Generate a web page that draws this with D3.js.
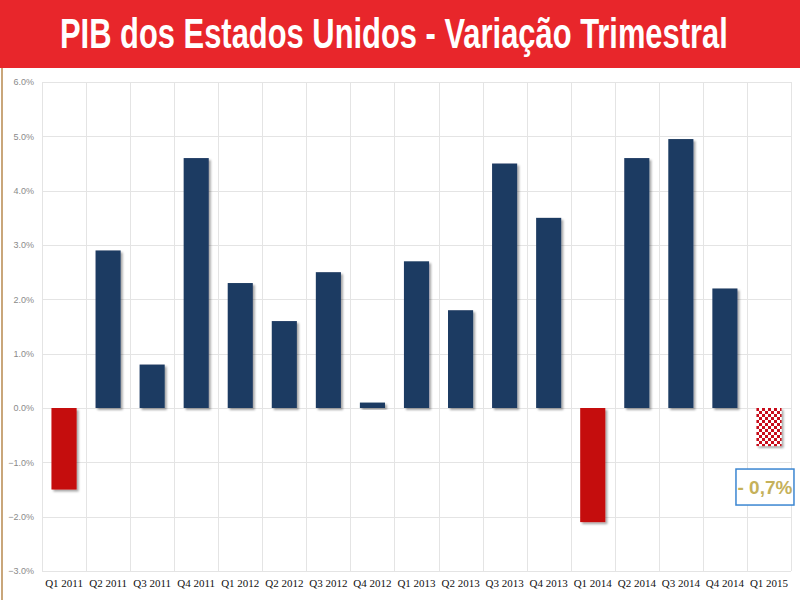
<!DOCTYPE html>
<html lang="pt">
<head>
<meta charset="UTF-8">
<title>PIB dos Estados Unidos - Variação Trimestral</title>
<script src="https://d3js.org/d3.v7.min.js"></script>
<style>
  html, body { margin: 0; padding: 0; background: #fff; }
  svg { display: block; }
</style>
</head>
<body>
<div id="chart"></div>
<script>
// quarters and annualised GDP change (%)
const quarters = ["Q1 2011", "Q2 2011", "Q3 2011", "Q4 2011",
                  "Q1 2012", "Q2 2012", "Q3 2012", "Q4 2012",
                  "Q1 2013", "Q2 2013", "Q3 2013", "Q4 2013",
                  "Q1 2014", "Q2 2014", "Q3 2014", "Q4 2014",
                  "Q1 2015"];
const growth = [-1.5, 2.9, 0.8, 4.6,
                2.3, 1.6, 2.5, 0.1,
                2.7, 1.8, 4.5, 3.5,
                -2.1, 4.6, 4.95, 2.2,
                -0.7];
const estimated = ["Q1 2015"];      // drawn checkered
const yTicks = [-3, -2, -1, 0, 1, 2, 3, 4, 5, 6];
const title = "PIB dos Estados Unidos - Variação Trimestral";
const calloutText = "- 0,7%";

const width = 800, height = 600;
const margin = {top: 82, right: 9, bottom: 29, left: 42};

const data = quarters.map((q, i) => ({q: q, v: growth[i], est: estimated.includes(q)}));

const svg = d3.select("#chart").append("svg")
    .attr("width", width)
    .attr("height", height);

const defs = svg.append("defs");

// checkered fill for the estimate
const pat = defs.append("pattern")
    .attr("id", "checks")
    .attr("patternUnits", "userSpaceOnUse")
    .attr("width", 6).attr("height", 6);
pat.append("rect").attr("width", 6).attr("height", 6).attr("fill", "#fff");
pat.append("rect").attr("width", 3).attr("height", 3).attr("fill", "#c8101a");
pat.append("rect").attr("x", 3).attr("y", 3).attr("width", 3).attr("height", 3).attr("fill", "#c8101a");

const shadow = defs.append("filter").attr("id", "shadow")
    .attr("x", "-20%").attr("y", "-20%").attr("width", "150%").attr("height", "150%");
shadow.append("feDropShadow")
    .attr("dx", 2).attr("dy", 2).attr("stdDeviation", 1.2)
    .attr("flood-color", "#000").attr("flood-opacity", 0.35);

// red banner
svg.append("rect")
    .attr("x", 0).attr("y", 0)
    .attr("width", width).attr("height", 68)
    .attr("fill", "#e8262b");

// title: squeeze horizontally to the banner's text width
const titleText = svg.append("text")
    .attr("x", 0).attr("y", 0)
    .style("font", "bold 42px 'Liberation Sans Narrow', 'Arial Narrow', 'Liberation Sans', sans-serif")
    .attr("fill", "#fff")
    .text(title);
const natural = titleText.node().getComputedTextLength();
titleText.attr("transform", `translate(60,48) scale(${668 / natural},1)`);

// thin frame line on the left
svg.append("line")
    .attr("x1", 2).attr("x2", 2)
    .attr("y1", 68).attr("y2", height)
    .attr("stroke", "#c9a67a").attr("stroke-width", 2);

const x = d3.scaleBand()
    .domain(quarters)
    .range([margin.left, width - margin.right])
    .paddingInner(0.43)
    .paddingOuter(0.215);

const y = d3.scaleLinear()
    .domain([-3, 6])
    .range([height - margin.bottom, margin.top]);

const step = x.step();
const cellLeft = q => x(q) - step * x.paddingInner() / 2;

// grid
const grid = svg.append("g")
    .attr("stroke", "#e4e4e4")
    .attr("stroke-width", 1);

grid.selectAll("line.h")
    .data(yTicks)
    .join("line")
    .attr("class", "h")
    .attr("x1", margin.left).attr("x2", width - margin.right)
    .attr("y1", d => Math.round(y(d)) + 0.5)
    .attr("y2", d => Math.round(y(d)) + 0.5);

grid.selectAll("line.v")
    .data(quarters.concat([null]))
    .join("line")
    .attr("class", "v")
    .attr("x1", (d, i) => Math.round(i < quarters.length ? cellLeft(d) : width - margin.right) + 0.5)
    .attr("x2", (d, i) => Math.round(i < quarters.length ? cellLeft(d) : width - margin.right) + 0.5)
    .attr("y1", y(6)).attr("y2", y(-3));

// y axis labels
const yAxis = d3.axisLeft(y)
    .tickValues(yTicks)
    .tickSize(0)
    .tickPadding(0)
    .tickFormat(d => d3.format(".1f")(d) + "%");

svg.append("g")
    .attr("transform", `translate(${margin.left - 8},0)`)
    .call(yAxis)
    .call(g => g.select(".domain").remove())
    .call(g => g.selectAll("text")
        .attr("fill", "#8a8a8a")
        .style("font", "9px 'Liberation Sans', sans-serif"));

// x axis labels
const xAxis = d3.axisBottom(x).tickSize(0).tickPadding(0);

svg.append("g")
    .attr("transform", `translate(0,${height - 17})`)
    .call(xAxis)
    .call(g => g.select(".domain").remove())
    .call(g => g.selectAll("text")
        .attr("fill", "#111")
        .attr("dy", "0.35em")
        .style("font", "11px 'Liberation Serif', 'Times New Roman', serif"));

// bars
svg.append("g")
    .selectAll("rect")
    .data(data)
    .join("rect")
    .attr("x", d => x(d.q))
    .attr("width", x.bandwidth())
    .attr("y", d => y(Math.max(0, d.v)))
    .attr("height", d => Math.abs(y(d.v) - y(0)))
    .attr("fill", d => d.est ? "url(#checks)" : (d.v < 0 ? "#c50a0a" : "#1f3b62"))
    .attr("filter", "url(#shadow)");

// callout under the estimated quarter
const est = data.find(d => d.est);
const boxW = 58, boxH = 36;
const bx = x(est.q) + x.bandwidth() / 2 - boxW / 2 - 4;
const by = y(est.v) + 23;

svg.append("rect")
    .attr("x", bx).attr("y", by)
    .attr("width", boxW).attr("height", boxH)
    .attr("fill", "#fff")
    .attr("stroke", "#3b86d1")
    .attr("stroke-width", 1.5);

svg.append("text")
    .attr("x", bx + boxW / 2).attr("y", by + boxH / 2)
    .attr("dy", "0.36em")
    .attr("text-anchor", "middle")
    .attr("fill", "#c5b15a")
    .style("font", "bold 19px 'Liberation Sans Narrow', 'Arial Narrow', 'Liberation Sans', sans-serif")
    .text(calloutText);
</script>
</body>
</html>
